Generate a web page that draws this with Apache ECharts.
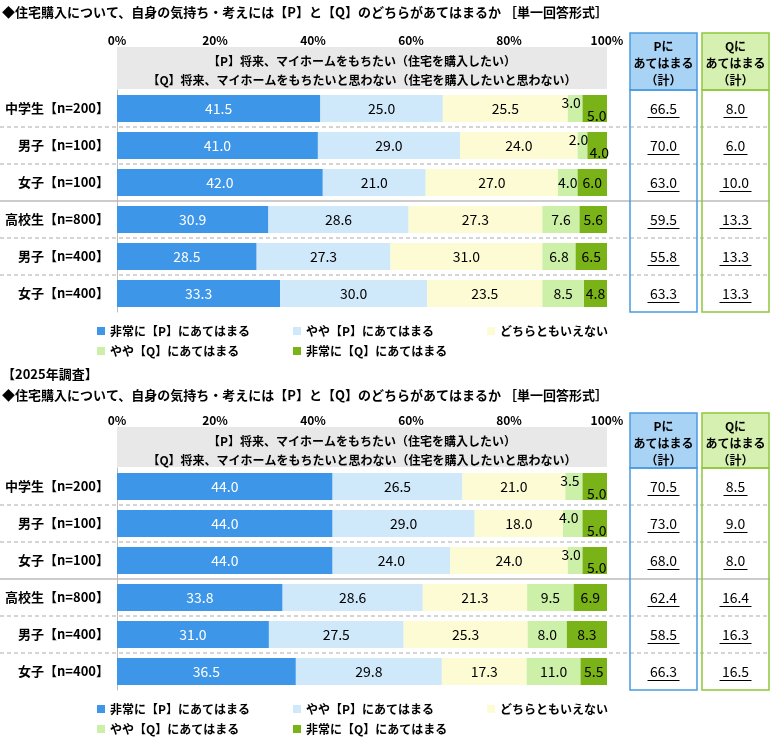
<!DOCTYPE html>
<html><head><meta charset="utf-8">
<script src="https://cdn.jsdelivr.net/npm/echarts@6/dist/echarts.min.js"></script>
<style>html,body{margin:0;padding:0;background:#fff}#c{width:770px;height:737px}</style>
</head><body><div id="c"></div>
<script>
const FONT = '"Noto Sans CJK JP", sans-serif';
const categories = ['中学生【n=200】', '男子【n=100】', '女子【n=100】', '高校生【n=800】', '男子【n=400】', '女子【n=400】'];
const seriesNames = ['非常に【P】にあてはまる', 'やや【P】にあてはまる', 'どちらともいえない', 'やや【Q】にあてはまる', '非常に【Q】にあてはまる'];
const colors = ['#3d96e8', '#cfe8fa', '#fdfbd3', '#cdf0a8', '#7ab317'];
const xTicks = [0, 20, 40, 60, 80, 100];
// previous survey (top)
const topValues = [
  [41.5, 41.0, 42.0, 30.9, 28.5, 33.3],
  [25.0, 29.0, 21.0, 28.6, 27.3, 30.0],
  [25.5, 24.0, 27.0, 27.3, 31.0, 23.5],
  [3.0, 2.0, 4.0, 7.6, 6.8, 8.5],
  [5.0, 4.0, 6.0, 5.6, 6.5, 4.8]
];
const topP = ['66.5', '70.0', '63.0', '59.5', '55.8', '63.3'];
const topQ = ['8.0', '6.0', '10.0', '13.3', '13.3', '13.3'];
// 2025 survey (bottom)
const botValues = [
  [44.0, 44.0, 44.0, 33.8, 31.0, 36.5],
  [26.5, 29.0, 24.0, 28.6, 27.5, 29.8],
  [21.0, 18.0, 24.0, 21.3, 25.3, 17.3],
  [3.5, 4.0, 3.0, 9.5, 8.0, 11.0],
  [5.0, 5.0, 5.0, 6.9, 8.3, 5.5]
];
const botP = ['70.5', '73.0', '68.0', '62.4', '58.5', '66.3'];
const botQ = ['8.5', '9.0', '8.0', '16.4', '16.3', '16.5'];

const chart = echarts.init(document.getElementById('c'));
const panels = [
  { top: 90, vals: topValues, P: topP, Q: topQ, axisY: 38, head: 47, legend: 320 },
  { top: 468, vals: botValues, P: botP, Q: botQ, axisY: 418, head: 427, legend: 698 }
];
const GL = 117, GW = 490;

const grids = [], xAxes = [], yAxes = [], series = [], legends = [];
panels.forEach((p, i) => {
  grids.push({ left: GL, width: GW, top: p.top, height: 222 });
  xAxes.push({ gridIndex: i, type: 'value', min: 0, max: 100, interval: 20, position: 'top',
    axisLabel: { formatter: '{value}%', fontFamily: FONT, fontSize: 12, fontWeight: 'bold', color: '#000', margin: p.top - p.axisY - 8 },
    splitLine: { show: false }, axisLine: { show: false }, axisTick: { show: false } });
  yAxes.push({ gridIndex: i, type: 'category', data: categories, inverse: true,
    axisLabel: { fontFamily: FONT, fontSize: 13, fontWeight: 'bold', color: '#000', margin: 8 },
    axisLine: { lineStyle: { color: '#bbb' } }, axisTick: { show: false } });
  p.vals.forEach((v, s) => {
    series.push({ name: seriesNames[s], type: 'bar', stack: 's' + i, xAxisIndex: i, yAxisIndex: i,
      barWidth: 27, itemStyle: { color: colors[s] },
      data: v.map((val, r) => {
        const stagger = p.vals[3][r] < 5 && p.vals[4][r] <= 5.0 && (s === 3 || s === 4);
        return { value: val, label: stagger ? { offset: s === 3 ? [-4, -6] : [2, 7] } : {} };
      }),
      label: { show: true, position: 'inside', formatter: d => d.value.toFixed(1), fontFamily: FONT, fontSize: 14,
        color: s === 0 ? '#fff' : '#000' } });
  });
  const pos = [[92, 0], [288, 0], [482, 0], [92, 20], [288, 20]];
  seriesNames.forEach((n, s) => legends.push({ data: [n], left: pos[s][0], top: p.legend + pos[s][1],
    itemWidth: 8, itemHeight: 8, icon: 'rect', itemGap: 4,
    textStyle: { fontFamily: FONT, fontSize: 12, fontWeight: 'bold', color: '#000' } }));
});

chart.setOption({ animation: false, grid: grids, xAxis: xAxes, yAxis: yAxes, series: series, legend: legends });

const g = [];
const tstyle = (extra) => Object.assign({ fontFamily: FONT, fill: '#000', fontWeight: 'bold' }, extra);
g.push({ type: 'text', left: 2, top: 6, style: tstyle({ text: '◆住宅購入について、自身の気持ち・考えには【P】と【Q】のどちらがあてはまるか ［単一回答形式］', fontSize: 13 }) });
g.push({ type: 'text', left: 2, top: 368, style: tstyle({ text: '【2025年調査】', fontSize: 13 }) });
g.push({ type: 'text', left: 2, top: 389, style: tstyle({ text: '◆住宅購入について、自身の気持ち・考えには【P】と【Q】のどちらがあてはまるか ［単一回答形式］', fontSize: 13 }) });
panels.forEach((p, i) => {
  g.push({ type: 'rect', shape: { x: GL, y: p.head, width: GW, height: p.top - p.head - 1 }, style: { fill: '#e8e8e8' } });
  g.push({ type: 'text', x: GL + GW / 2, y: p.head + 5, style: tstyle({ text: '【P】将来、マイホームをもちたい（住宅を購入したい）\n【Q】将来、マイホームをもちたいと思わない（住宅を購入したいと思わない）', fontSize: 12, align: 'center', lineHeight: 19 }) });
  const boxTop = p.axisY - 5, boxBot = p.top + 222;
  [[630, '#4a9be0', '#a9d3f5', 'Pに\nあてはまる\n（計）', p.P], [702, '#8fc83c', '#d5f0b0', 'Qに\nあてはまる\n（計）', p.Q]].forEach(([bx, bc, fc, head, nums]) => {
    g.push({ type: 'rect', shape: { x: bx, y: boxTop, width: 67, height: p.top - boxTop }, style: { fill: fc, stroke: bc, lineWidth: 1.5 } });
    g.push({ type: 'rect', shape: { x: bx, y: p.top, width: 67, height: boxBot - p.top }, style: { fill: 'none', stroke: bc, lineWidth: 1.5 } });
    g.push({ type: 'text', x: bx + 33.5, y: boxTop + 5, style: tstyle({ text: head, fontSize: 12, align: 'center', lineHeight: 17 }) });
    nums.forEach((n, r) => {
      const y = chart.convertToPixel({ yAxisIndex: i }, categories[r]);
      g.push({ type: 'text', x: bx + 33.5, y: y, style: tstyle({ text: n, fontSize: 14, fontWeight: 'normal', align: 'center', verticalAlign: 'middle' }) });
      const w = n.length * 8;
      g.push({ type: 'line', shape: { x1: bx + 33.5 - w / 2, y1: y + 9, x2: bx + 33.5 + w / 2, y2: y + 9 }, style: { stroke: '#000', lineWidth: 1 } });
    });
  });
  for (let r = 0; r < 5; r++) {
    const y = (chart.convertToPixel({ yAxisIndex: i }, categories[r]) + chart.convertToPixel({ yAxisIndex: i }, categories[r + 1])) / 2;
    const solid = r === 2;
    g.push({ type: 'line', z: -1, shape: { x1: 0, y1: y, x2: 770, y2: y }, style: { stroke: solid ? '#999' : '#aaa', lineWidth: 1, lineDash: solid ? null : [4, 3] } });
  }
});
chart.setOption({ graphic: g });
</script></body></html>
